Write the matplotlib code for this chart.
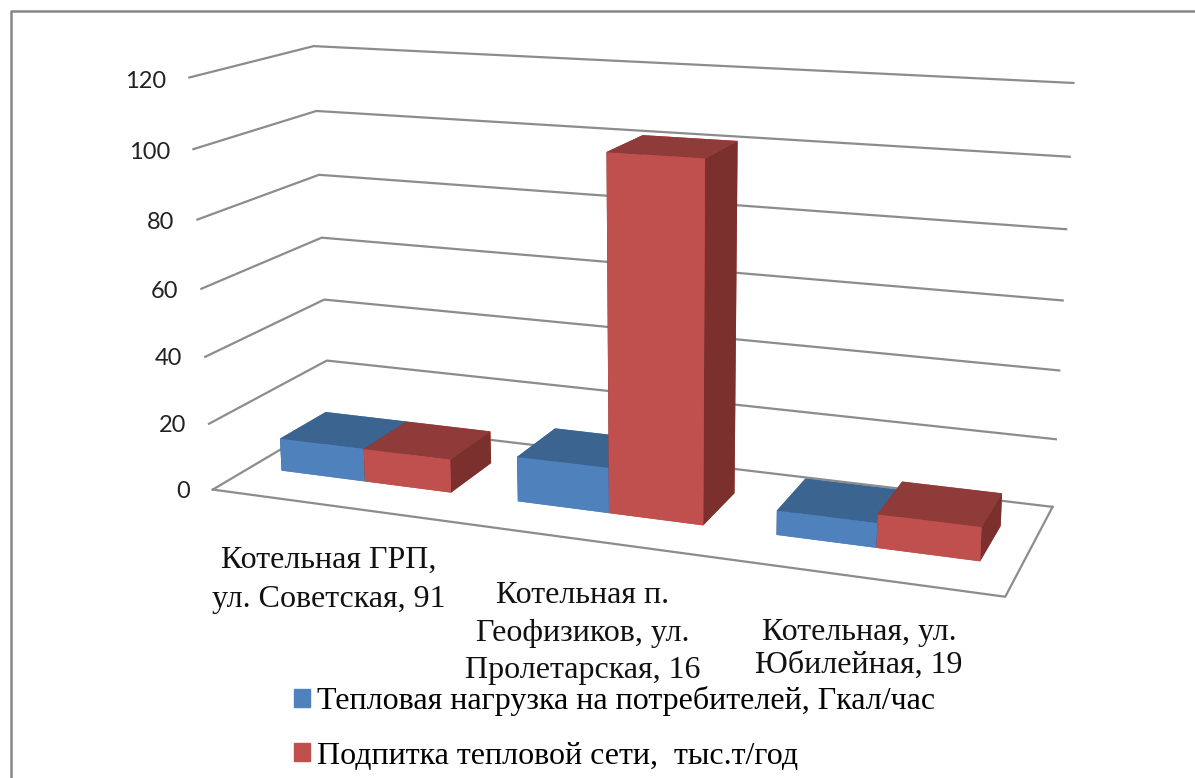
import numpy as np
import matplotlib
matplotlib.use('Agg')
import matplotlib.pyplot as plt
from matplotlib.lines import Line2D
from matplotlib.patches import Patch
from mpl_toolkits.mplot3d import proj3d

W, H = 1195, 778

categories = ['Котельная ГРП,\nул. Советская, 91',
              'Котельная п.\nГеофизиков, ул.\nПролетарская, 16',
              'Котельная, ул.\nЮбилейная, 19']
series_names = ['Тепловая нагрузка на потребителей, Гкал/час',
                'Подпитка тепловой сети,  тыс.т/год']
load_values = [10, 13.3, 7]
makeup_values = [10, 102.5, 9.5]
z_ticks = [0, 20, 40, 60, 80, 100, 120]

blue = ['#4f81bd', '#3c6491', '#4f81bd', '#4f81bd', '#345678', '#345678']
red = ['#c0504d', '#8f3b39', '#c0504d', '#c0504d', '#7b302e', '#7b302e']
grid = '#8c8c8c'

fig = plt.figure(figsize=(W / 100, H / 100), dpi=100)

# camera found by fitting the wall corners of the picture
s, tx, ty = 5064.22, 625.63, 294.52
side = s * 0.185
ax = fig.add_axes([(tx - s * 0.095) / W, (H - ty - s * 0.095) / H, side / W, side / H],
                  projection='3d')
ax.set_xlim(0, 3, view_margin=0)
ax.set_ylim(0, 1, view_margin=0)
ax.set_zlim(0, 120, view_margin=0)
ax.view_init(14.333, -68.993, 0.271)
ax.set_proj_type('persp', focal_length=0.4099)
ax.set_box_aspect((1, 0.3015, 0.5214))
ax.set_axis_off()
ax.computed_zorder = False

# walls
M = ax.get_proj()
for z in z_ticks:
    ax.plot([0, 0, 3], [0, 1, 1], [z, z, z], color=grid, lw=1.6, zorder=1)
    u, v, _ = proj3d.proj_transform(-0.1, 0, z - 1.4, M)
    ax.text2D(u, v, str(z), transform=ax.transData, ha='right', va='center', fontsize=17,
              family='Lato', color='#222222')
ax.plot([0, 3, 3], [0, 0, 1], [0, 0, 0], color=grid, lw=1.6, zorder=1)

# bars, left to right because the camera sits on the right
bar_w = 0.363
bar_x = 0.134
order = 2
for i in range(len(categories)):
    for j, (vals, cols) in enumerate([(load_values, blue), (makeup_values, red)]):
        ax.bar3d(i + bar_x + j * bar_w, 0.31, 0, bar_w, 0.4, vals[i], color=cols,
                 shade=False, linewidth=0, zorder=order)
        order += 1

# category labels
label_pos = [(329, 580), (583, 633), (859, 649)]
label_spacing = [1.45, 1.38, 1.2]
for text, (px, py), sp in zip(categories, label_pos, label_spacing):
    fig.text(px / W, 1 - py / H, text, ha='center', va='center', fontsize=23,
             family='Liberation Serif', linespacing=sp, color='#111111')

# legend
handles = [Patch(color=blue[0], label=series_names[0]), Patch(color=red[0], label=series_names[1])]
fig.legend(handles=handles, loc='upper left', bbox_to_anchor=(294 / W, 1 - 686 / H),
           frameon=False, borderpad=0, borderaxespad=0, handlelength=0.5, handleheight=0.5,
           handletextpad=0.22, labelspacing=0.8,
           prop={'family': 'Liberation Serif', 'size': 23})

# chart frame runs off the picture on the right and bottom
fig.add_artist(Line2D([10.5 / W, 10.5 / W, 1], [0, 1 - 11 / H, 1 - 11 / H],
                      color='#868686', lw=1.8))

fig.savefig('out.png', dpi=100)
